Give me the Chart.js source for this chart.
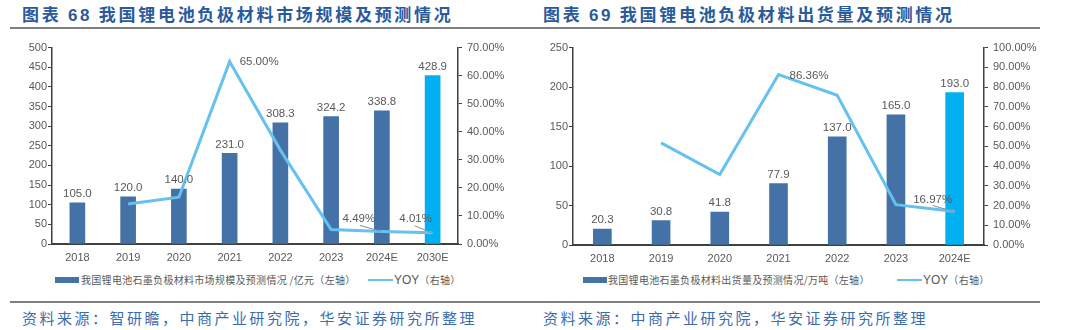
<!DOCTYPE html>
<html>
<head>
<meta charset="utf-8">
<script src="https://cdn.jsdelivr.net/npm/chart.js@4"></script>
<style>
  body { margin:0; background:#fff; width:1080px; height:330px; position:relative; overflow:hidden; font-family:"Noto Sans CJK SC", sans-serif; }
  .title { position:absolute; top:1px; font-size:17px; font-weight:700; color:#2a5a9c; letter-spacing:2.7px; white-space:nowrap; }
  .title .num { font-family:"Liberation Sans", Arial, sans-serif; }
  .rule { position:absolute; height:2px; background:#808080; }
  .box { position:absolute; top:36px; width:540px; height:232px; }
  .legend { position:absolute; top:272px; height:16px; font-size:10px; color:#595959; white-space:nowrap; letter-spacing:0.3px; }
  .legend span { position:absolute; top:0; line-height:16px; }
  .swatch { position:absolute; top:5px; width:24px; height:6px; background:#4472a6; }
  .lineswatch { position:absolute; top:7px; width:25px; height:2px; background:#66c0f0; }
  .latin { font-family:"Liberation Sans", Arial, sans-serif; font-size:12px; letter-spacing:0; }
  .source { position:absolute; top:307px; font-size:15px; color:#3a6cae; letter-spacing:2.5px; white-space:nowrap; }
</style>
</head>
<body>
<div class="title" style="left:22px">图表 <span class="num">68</span> 我国锂电池负极材料市场规模及预测情况</div>
<div class="title" style="left:543px">图表 <span class="num">69</span> 我国锂电池负极材料出货量及预测情况</div>
<div class="rule" style="left:10px;width:530px;top:27px"></div>
<div class="rule" style="left:540px;width:500px;top:27px"></div>

<div class="box" style="left:0"><canvas id="marketChart" width="540" height="232"></canvas></div>
<div class="box" style="left:540px"><canvas id="shipChart" width="540" height="232"></canvas></div>

<div class="legend" style="left:0;width:540px">
  <div class="swatch" style="left:55px"></div>
  <span style="left:81px">我国锂电池石墨负极材料市场规模及预测情况 /亿元（左轴）</span>
  <div class="lineswatch" style="left:368px"></div>
  <span style="left:394px"><span class="latin" style="position:static">YOY</span>（右轴）</span>
</div>
<div class="legend" style="left:540px;width:540px">
  <div class="swatch" style="left:43px"></div>
  <span style="left:68px">我国锂电池石墨负极材料出货量及预测情况/万吨（左轴）</span>
  <div class="lineswatch" style="left:357px"></div>
  <span style="left:383px"><span class="latin" style="position:static">YOY</span>（右轴）</span>
</div>

<div class="rule" style="left:10px;width:530px;top:301px"></div>
<div class="rule" style="left:540px;width:500px;top:301px"></div>
<div class="source" style="left:22px">资料来源：智研瞻，中商产业研究院，华安证券研究所整理</div>
<div class="source" style="left:543px">资料来源：中商产业研究院，华安证券研究所整理</div>

<script>
// data
const marketYears = ['2018', '2019', '2020', '2021', '2022', '2023', '2024E', '2030E']
const marketSize = [105.0, 120.0, 140.0, 231.0, 308.3, 324.2, 338.8, 428.9]
const marketYoy = [null, 14.29, 16.67, 65.00, 33.46, 5.16, 4.49, 4.01]

const shipYears = ['2018', '2019', '2020', '2021', '2022', '2023', '2024E']
const shipVolume = [20.3, 30.8, 41.8, 77.9, 137.0, 165.0, 193.0]
const shipYoy = [null, 51.72, 35.71, 86.36, 75.87, 20.44, 16.97]

const barBlue = '#4472a6'
const barBright = '#00b0f0'
const lineBlue = '#66c0f0'
const textGray = '#595959'
const axisDark = '#404040'
const latin = '"Liberation Sans", Arial, sans-serif'

// draws the value on each bar and a few chosen YOY labels
const valueLabels = {
    id: 'valueLabels',
    afterDatasetsDraw(chart, args, opts) {
        const ctx = chart.ctx
        ctx.save()
        ctx.fillStyle = textGray
        ctx.font = '11.5px ' + latin
        ctx.textAlign = 'center'
        ctx.textBaseline = 'bottom'
        const bars = chart.getDatasetMeta(1)
        const barData = chart.data.datasets[1].data
        bars.data.forEach((el, i) => {
            ctx.fillText(barData[i].toFixed(1), el.x, el.y - 3)
        })
        const line = chart.getDatasetMeta(0)
        const lineData = chart.data.datasets[0].data
        ctx.textBaseline = 'middle'
        opts.yoy.forEach(l => {
            const el = line.data[l.index]
            if (l.leader) {
                ctx.strokeStyle = '#8c8c8c'
                ctx.lineWidth = 1
                ctx.beginPath()
                ctx.moveTo(el.x + l.leader[0], el.y + l.leader[1])
                ctx.lineTo(el.x - 1, el.y)
                ctx.stroke()
            }
            ctx.textAlign = l.align
            ctx.fillText(lineData[l.index].toFixed(2) + '%', el.x + l.dx, el.y + l.dy)
        })
        ctx.restore()
    }
}

const renderChart = (canvasId, labels, bars, yoy, opt) => {
    const ctx = document.getElementById(canvasId).getContext('2d')
    const colors = bars.map((v, i) => i === bars.length - 1 ? barBright : barBlue)
    return new Chart(ctx, {
        type: 'bar',
        data: {
            labels: labels,
            datasets: [{
                type: 'line',
                data: yoy,
                yAxisID: 'y2',
                borderColor: lineBlue,
                borderWidth: 3,
                pointRadius: 0,
                tension: 0,
                order: 0
            }, {
                type: 'bar',
                data: bars,
                yAxisID: 'y',
                backgroundColor: colors,
                barThickness: opt.barWidth,
                order: 1
            }]
        },
        plugins: [valueLabels],
        options: {
            responsive: false,
            animation: false,
            devicePixelRatio: 1,
            layout: { padding: { top: opt.padTop, left: 0, right: 0, bottom: 0 } },
            plugins: {
                legend: { display: false },
                tooltip: { enabled: false },
                valueLabels: { yoy: opt.yoyLabels }
            },
            scales: {
                x: {
                    grid: { display: false, drawTicks: false },
                    border: { display: true, color: axisDark, width: 2 },
                    ticks: { color: textGray, font: { family: latin, size: 11 }, padding: 7, maxRotation: 0 },
                    afterFit: s => { s.height = opt.xHeight }
                },
                y: {
                    position: 'left',
                    min: 0, max: opt.leftMax,
                    ticks: { stepSize: opt.leftStep, color: textGray, font: { family: latin, size: 11 }, padding: 1 },
                    grid: { drawOnChartArea: false, tickLength: 4, color: axisDark },
                    border: { color: axisDark, width: 1.5 },
                    afterFit: s => { s.width = opt.leftWidth }
                },
                y2: {
                    position: 'right',
                    min: 0, max: opt.rightMax,
                    ticks: { stepSize: 10, color: textGray, font: { family: latin, size: 11 }, padding: 5,
                        callback: v => v.toFixed(2) + '%' },
                    grid: { drawOnChartArea: false, tickLength: 4, color: axisDark },
                    border: { color: axisDark, width: 1.5 },
                    afterFit: s => { s.width = opt.rightWidth }
                }
            }
        }
    })
}

renderChart('marketChart', marketYears, marketSize, marketYoy, {
    barWidth: 15, padTop: 10, xHeight: 24, leftWidth: 52, rightWidth: 82,
    leftMax: 500, leftStep: 50, rightMax: 70,
    yoyLabels: [
        { index: 3, dx: 10, dy: 0, align: 'left' },
        { index: 6, dx: -23, dy: -13, align: 'center', leader: [-22, -6] },
        { index: 7, dx: -17, dy: -14, align: 'center', leader: [-18, -7] }
    ]
})

renderChart('shipChart', shipYears, shipVolume, shipYoy, {
    barWidth: 18, padTop: 6, xHeight: 23, leftWidth: 33, rightWidth: 96,
    leftMax: 250, leftStep: 50, rightMax: 100,
    yoyLabels: [
        { index: 3, dx: 11, dy: 1, align: 'left' },
        { index: 6, dx: -22, dy: -12, align: 'center', leader: [-22, -6] }
    ]
})
</script>
</body>
</html>
